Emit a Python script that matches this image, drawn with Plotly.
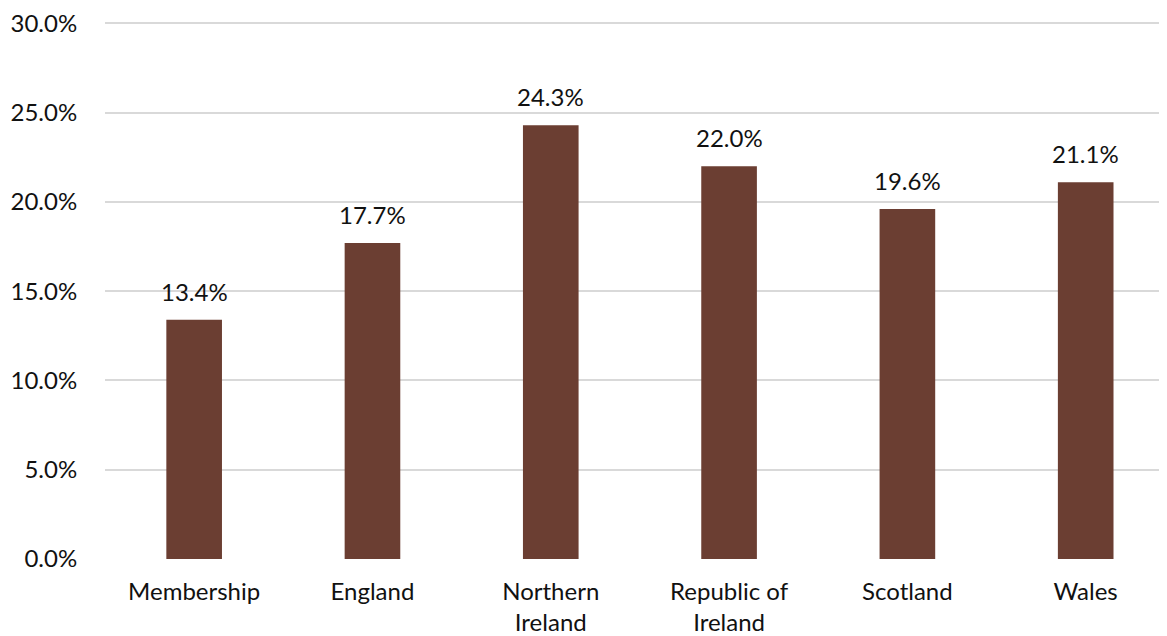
import plotly.graph_objects as go

categories = ["Membership", "England", "Northern<br>Ireland", "Republic of<br>Ireland", "Scotland", "Wales"]
values = [13.4, 17.7, 24.3, 22.0, 19.6, 21.1]
y_ticks = [0, 5, 10, 15, 20, 25, 30]
y_tick_labels = ["0.0%", "5.0%", "10.0%", "15.0%", "20.0%", "25.0%", "30.0%"]

BAR = "#6B3E32"
FONT = "Lato"
TXT = "#111111"

fig = go.Figure()
fig.add_trace(go.Bar(
    x=list(range(len(categories))),
    y=values,
    marker=dict(color=BAR, line=dict(width=0)),
    width=0.312,
    hoverinfo="skip",
))

for i, v in enumerate(values):
    fig.add_annotation(
        x=i, y=v, text=f"{v:.1f}%", showarrow=False,
        yanchor="bottom", yshift=12,
        font=dict(family=FONT, size=24, color=TXT),
    )

fig.update_layout(
    width=1167, height=636,
    margin=dict(l=97, r=8, t=10, b=85, autoexpand=False),
    paper_bgcolor="white", plot_bgcolor="white",
    showlegend=False,
    font=dict(family=FONT, size=24, color=TXT),
    xaxis=dict(
        tickmode="array",
        tickvals=list(range(len(categories))),
        ticktext=categories,
        range=[-0.5, 5.456],
        showgrid=False, zeroline=False, showline=False,
        ticks="outside", ticklen=11, tickcolor="rgba(0,0,0,0)",
        tickfont=dict(family=FONT, size=24, color=TXT),
        ticklabeloverflow="allow",
        automargin=False,
    ),
    yaxis=dict(
        range=[0, 30.3],
        tickmode="array",
        tickvals=y_ticks,
        ticktext=y_tick_labels,
        showgrid=True, gridcolor="#D9D9D9", gridwidth=1.5,
        zeroline=False, showline=False,
        ticks="outside", ticklen=22, tickcolor="rgba(0,0,0,0)",
        tickfont=dict(family=FONT, size=24, color=TXT),
        ticklabeloverflow="allow",
        automargin=False,
    ),
)

fig.write_html("out.html")
